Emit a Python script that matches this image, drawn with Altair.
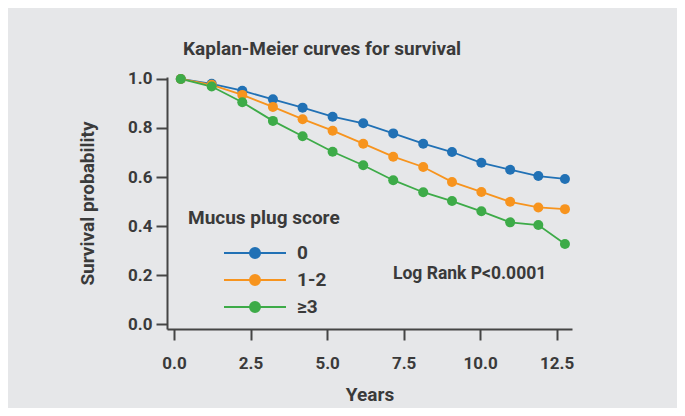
import altair as alt
import pandas as pd

# ---- data ----
years = [0.22, 1.23, 2.23, 3.23, 4.20, 5.18, 6.18, 7.16, 8.14, 9.08, 10.04, 10.98, 11.90, 12.77]
surv_0 = [1.0, 0.98, 0.952, 0.917, 0.883, 0.846, 0.819, 0.778, 0.736, 0.702, 0.658, 0.630, 0.604, 0.592]
surv_12 = [1.0, 0.976, 0.935, 0.886, 0.836, 0.789, 0.736, 0.683, 0.641, 0.580, 0.539, 0.499, 0.476, 0.469]
surv_3 = [1.0, 0.969, 0.905, 0.829, 0.766, 0.703, 0.648, 0.587, 0.538, 0.502, 0.460, 0.415, 0.404, 0.327]
groups = ["0", "1-2", "≥3"]
colors = ["#2171b5", "#f7941e", "#3dab48"]
x_ticks = [0, 2.5, 5, 7.5, 10, 12.5]
y_ticks = [0, 0.2, 0.4, 0.6, 0.8, 1.0]
annotation = ["Log Rank P<0.0001"]

rows = []
for g, series in zip(groups, [surv_0, surv_12, surv_3]):
    for i, (x, y) in enumerate(zip(years, series)):
        rows.append({"Years": x, "Survival": y, "group": g, "order": i})
df = pd.DataFrame(rows)

FONT = "Roboto, sans-serif"
TXT = "#3a3a3a"
AX = "#454545"
BG = "#e6e7e9"


def circ(cx, r):
    return f"M{cx - r},0A{r},{r},0,1,1,{cx + r},0A{r},{r},0,1,1,{cx - r},0Z"


sym_path = "M2.5,0L8.7,0" + "".join(circ(5.6, r) for r in [0.5, 0.35, 0.2, 0.05])

legend = alt.Legend(
    title="Mucus plug score",
    orient="none",
    legendX=21,
    legendY=132,
    padding=0,
    symbolType=sym_path,
    symbolSize=400,
    symbolStrokeWidth=2,
    symbolOpacity=1,
    labelOffset=87,
    rowPadding=6,
    titlePadding=14,
    titleFont=FONT,
    titleFontSize=19,
    titleFontWeight="bold",
    titleColor=TXT,
    labelFont=FONT,
    labelFontSize=19,
    labelFontWeight="bold",
    labelColor=TXT,
)

base = alt.Chart(df)

lines = base.mark_line(
    strokeWidth=1.8,
    point=alt.OverlayMarkDef(filled=True, size=100, opacity=1),
).encode(
    x=alt.X(
        "Years:Q",
        scale=alt.Scale(domain=[-0.23, 13.0], nice=False, zero=False),
        axis=alt.Axis(
            values=x_ticks, format=".1f", title="Years", grid=False,
            tickSize=11, labelPadding=15, titlePadding=14,
        ),
    ),
    y=alt.Y(
        "Survival:Q",
        scale=alt.Scale(domain=[-0.02, 1.008], nice=False, zero=False),
        axis=alt.Axis(
            values=y_ticks, format=".1f", title="Survival probability", grid=False,
            tickSize=11, labelPadding=4, titlePadding=30,
        ),
    ),
    color=alt.Color(
        "group:N",
        scale=alt.Scale(domain=groups, range=colors),
        legend=legend,
    ),
    order=alt.Order("order:Q"),
)

text = alt.Chart(pd.DataFrame({"label": annotation})).mark_text(
    align="left", baseline="middle", font=FONT, fontSize=17.5, fontWeight="bold", color=TXT
).encode(
    text="label:N",
    x=alt.value(226),
    y=alt.value(197),
)

chart = (
    alt.layer(lines, text)
    .properties(
        width=405,
        height=252,
        padding={"left": 159, "top": 69, "right": 105, "bottom": 79},
        autosize=alt.AutoSizeParams(type="none"),
        background=BG,
        title=alt.TitleParams(
            "Kaplan-Meier curves for survival",
            anchor="start", frame="group", dx=16, dy=27, offset=23, baseline="alphabetic",
            font=FONT, fontSize=19, fontWeight="bold", color=TXT,
        ),
    )
    .configure_view(stroke=None)
    .configure_axis(
        domainColor=AX, domainWidth=2, tickColor=AX, tickWidth=2,
        labelFont=FONT, labelFontSize=17, labelFontWeight="bold", labelColor=TXT,
        titleFont=FONT, titleFontSize=19, titleFontWeight="bold", titleColor=TXT,
    )
)

chart.save("out.html", embed_options={"renderer": "svg", "actions": False})
